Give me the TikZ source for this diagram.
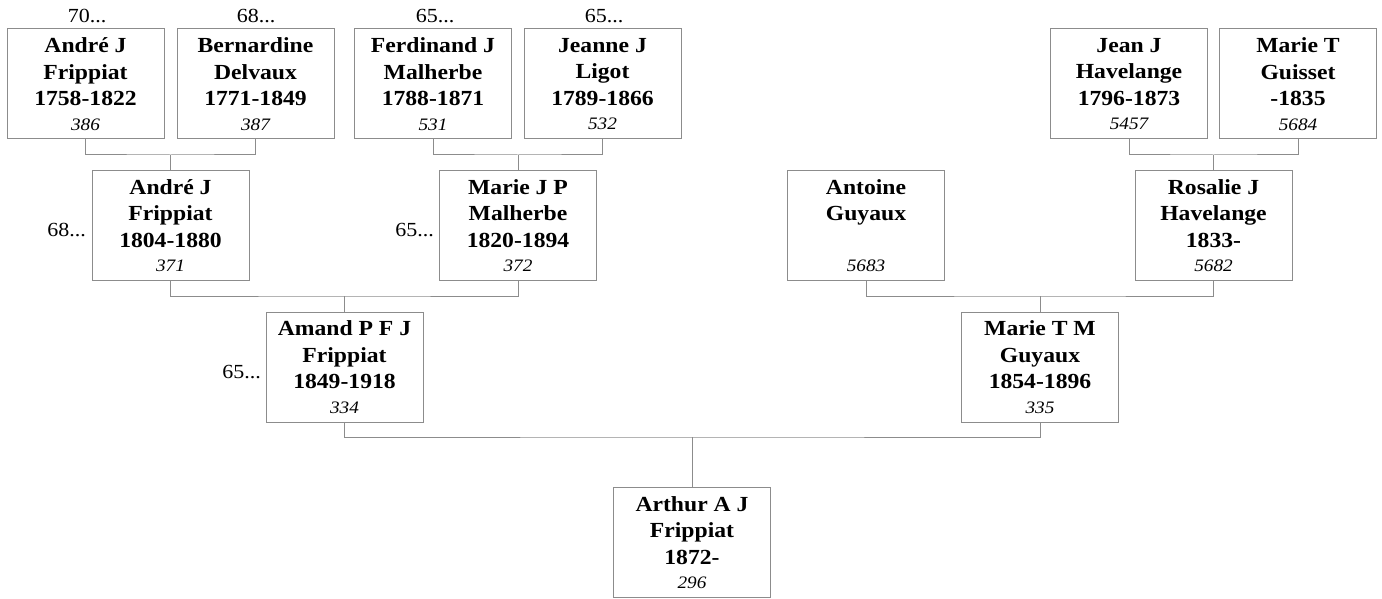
\documentclass[tikz,border=0pt]{standalone}
\usepackage{fontspec}
\setmainfont[FakeStretch=1.1]{Liberation Serif}
\definecolor{linegray}{RGB}{140,140,140}
\newcommand{\pid}[1]{{\fontsize{17.5}{20}\selectfont\mdseries\itshape #1}}

\begin{document}
\begin{tikzpicture}[x=1pt, y=-1pt,
	person/.style={draw=linegray, line width=1pt, fill=white, minimum width=157pt,
		minimum height=110pt, inner sep=0pt, align=center,
		font=\fontsize{21.5}{26.5}\selectfont\bfseries},
	link/.style={draw=linegray, line width=1pt},
	more/.style={font=\fontsize{20}{24}\selectfont, inner sep=0pt}]
	\useasboundingbox (0,0) rectangle (1382,599);

	% Urgrosseltern
	\node[person] (andreA) at (85.5,84) {Andr\'e J\\Frippiat\\1758-1822\\[-2pt]\pid{386}};
	\node[person] (bernardine) at (255.5,84) {Bernardine\\Delvaux\\1771-1849\\[-2pt]\pid{387}};
	\node[person] (ferdinand) at (433,84) {Ferdinand J\\Malherbe\\1788-1871\\[-2pt]\pid{531}};
	\node[person] (jeanne) at (602.5,84) {Jeanne J\\Ligot\\1789-1866\\[-2pt]\pid{532}};
	\node[person] (jean) at (1129,84) {Jean J\\Havelange\\1796-1873\\[-2pt]\pid{5457}};
	\node[person] (marieG) at (1298,84) {Marie T\\Guisset\\-1835\\[-2pt]\pid{5684}};

	% Grosseltern
	\node[person] (andreB) at (170.5,225.5) {Andr\'e J\\Frippiat\\1804-1880\\[-2pt]\pid{371}};
	\node[person] (marieM) at (518,225.5) {Marie J P\\Malherbe\\1820-1894\\[-2pt]\pid{372}};
	\node[person] (antoine) at (866,225.5) {Antoine\\Guyaux\\\mbox{}\\[-2pt]\pid{5683}};
	\node[person] (rosalie) at (1213.5,225.5) {Rosalie J\\Havelange\\1833-\\[-2pt]\pid{5682}};

	% Eltern
	\node[person] (amand) at (344.5,367) {Amand P F J\\Frippiat\\1849-1918\\[-2pt]\pid{334}};
	\node[person] (marieT) at (1040,367) {Marie T M\\Guyaux\\1854-1896\\[-2pt]\pid{335}};

	% Proband
	\node[person] (arthur) at (692,542.5) {Arthur A J\\Frippiat\\1872-\\[-2pt]\pid{296}};

	% weitere Vorfahren
	\node[more, anchor=base] (moreA) at (87,23) {70...};
	\node[more, anchor=base] (moreB) at (256,23) {68...};
	\node[more, anchor=base] (moreC) at (435,23) {65...};
	\node[more, anchor=base] (moreD) at (604,23) {65...};
	\node[more, anchor=base east] (moreE) at (86,236) {68...};
	\node[more, anchor=base east] (moreF) at (434,236) {65...};
	\node[more, anchor=base east] (moreG) at (261,378) {65...};

	% Verbindungen
	\coordinate (jA) at (170.5,155);
	\coordinate (jB) at (518,155);
	\coordinate (jC) at (1213.5,155);
	\coordinate (jD) at (344.5,296);
	\coordinate (jE) at (1040,296);
	\coordinate (jF) at (692,437);
	\draw[link] (andreA.south) |- (jA) -| (bernardine.south);
	\draw[link] (jA) -- (andreB.north);
	\draw[link] (ferdinand.south) |- (jB) -| (jeanne.south);
	\draw[link] (jB) -- (marieM.north);
	\draw[link] (jean.south) |- (jC) -| (marieG.south);
	\draw[link] (jC) -- (rosalie.north);
	\draw[link] (andreB.south) |- (jD) -| (marieM.south);
	\draw[link] (jD) -- (amand.north);
	\draw[link] (antoine.south) |- (jE) -| (rosalie.south);
	\draw[link] (jE) -- (marieT.north);
	\draw[link] (amand.south) |- (jF) -| (marieT.south);
	\draw[link] (jF) -- (arthur.north);
\end{tikzpicture}
\end{document}
